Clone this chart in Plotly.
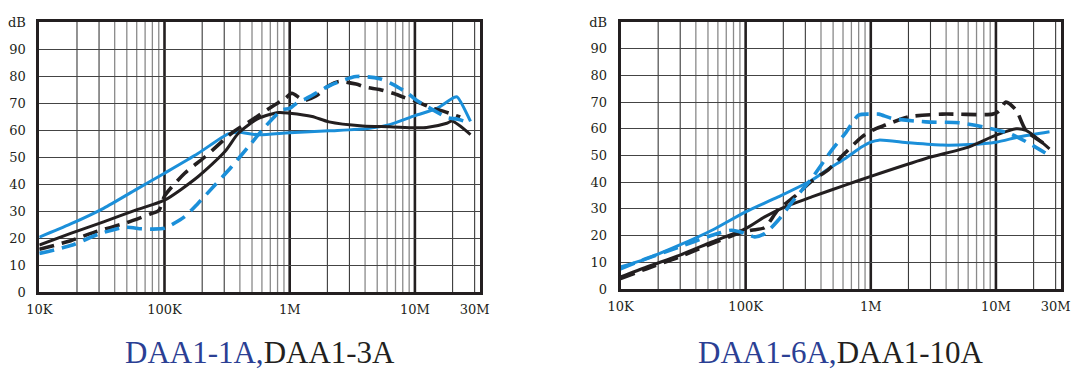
import plotly.graph_objects as go

# ---------------- data (frequency in kHz, attenuation in dB) ----------------
# Left chart: DAA1-1A, DAA1-3A
L_blue_solid_f = [10, 17.8, 32.6, 59.6, 100, 185, 323, 389, 563, 1000, 2060, 4330, 6280, 10000, 15000, 20400, 21700, 27800]
L_blue_solid_db = [20.3, 25.2, 31, 38, 44, 51.3, 58.6, 59.2, 58.2, 59, 59.7, 60.6, 62, 65.3, 68, 72, 72.3, 63.2]

L_black_solid_f = [10, 17.8, 32.6, 59.6, 100, 185, 304, 389, 563, 816, 1000, 1510, 2060, 3830, 6280, 10000, 12400, 18000, 19800, 27800]
L_black_solid_db = [17.4, 21.7, 26, 30.4, 34, 42.7, 52, 58.8, 64.3, 66.5, 66.2, 65, 63, 61.5, 61.2, 60.8, 60.9, 62.5, 63.3, 58.3]

L_black_dash_f = [10, 17.8, 27, 50, 77, 90, 100, 145, 210, 343, 498, 720, 922, 1040, 1300, 1610, 2060, 2480, 3390, 4080, 5220, 6680, 8300, 10000, 14000, 16800, 23000]
L_black_dash_db = [15.8, 19, 22, 25.7, 28.9, 30.2, 35.5, 44, 50, 58.8, 63.7, 68.6, 71.7, 73.6, 71, 72.5, 76.5, 78, 77, 75.8, 75, 73.6, 72, 70.8, 68, 67, 64.8]

L_blue_dash_f = [10, 18.4, 30, 48.2, 65.6, 81, 100, 113, 145, 185, 253, 343, 468, 636, 867, 1000, 1180, 1340, 2060, 3390, 5220, 6600, 8800, 10300, 15900, 18400, 22000, 27700]
L_blue_dash_db = [14.3, 17.4, 21.5, 24, 23.4, 23.3, 23.6, 24.8, 27.9, 32.8, 39.6, 46.4, 53.8, 61.2, 67.4, 68, 70.5, 71.5, 76.3, 79.8, 79, 77, 73.6, 71, 66, 64.5, 64, 62.5]

# Right chart: DAA1-6A, DAA1-10A
R_blue_solid_f = [10, 16.2, 29.5, 53.8, 100, 182, 337, 459, 625, 850, 1000, 1160, 2020, 3730, 6110, 10000, 15400, 26800]
R_blue_solid_db = [8.25, 11.4, 16.4, 22, 28.9, 34.5, 40.75, 45, 48.9, 53.25, 55, 55.75, 54.75, 53.9, 54.1, 55, 57, 58.9]

R_black_solid_f = [10, 16.2, 29.5, 53.8, 100, 142, 206, 337, 625, 1000, 2750, 6110, 10000, 14500, 17400, 26800]
R_black_solid_db = [4.5, 8.25, 12.6, 17.6, 22.6, 27, 30.75, 34.5, 38.9, 42.2, 48.9, 53.25, 57.6, 60, 59.4, 52.5]

R_black_dash_f = [10, 16.2, 29.5, 53.8, 87.2, 111, 142, 182, 248, 337, 459, 625, 850, 1090, 1310, 2020, 3730, 9400, 10600, 12000, 14500, 17400, 26800]
R_black_dash_db = [3.9, 7.6, 12, 17, 20.75, 22, 23, 29.75, 34.75, 40.4, 44.75, 51, 57, 60, 61.4, 64.5, 65.5, 65.5, 66.6, 70, 67, 59.4, 53.25]

R_blue_dash_f = [10, 16.2, 29.5, 53.8, 77.3, 100, 118, 142, 182, 248, 337, 488, 625, 800, 1000, 1160, 1480, 2750, 5080, 7820, 12800, 18500, 26800]
R_blue_dash_db = [7.6, 11.4, 15.75, 20.1, 22, 20.75, 19.5, 20.75, 25.75, 33.9, 41.4, 52, 58.25, 65.1, 65.5, 65.5, 63.9, 62.6, 62.25, 60.75, 58.25, 54.5, 50]

x_tick_vals = [1e4, 1e5, 1e6, 1e7, 3e7]
x_tick_text = ["10K", "100K", "1M", "10M", "30M"]
y_tick_vals = [0, 10, 20, 30, 40, 50, 60, 70, 80, 90, 100]
y_tick_text = ["0", "10", "20", "30", "40", "50", "60", "70", "80", "90", "dB"]

titles = [("DAA1-1A,", "DAA1-3A"), ("DAA1-6A,", "DAA1-10A")]

# ---------------- styling ----------------
BLUE = "#1b8fd9"
BLACK = "#231f20"
TITLE_BLUE = "#2b3f94"
PAGE_W, PAGE_H = 1085, 386
OFF = 8  # default page body margin in the html written by plotly
W, H = PAGE_W - OFF, PAGE_H - OFF
SERIF = "Liberation Serif, serif"
TICK_SERIF = "DejaVu Serif, serif"

fig = go.Figure()

def add(fx, fy, color, dash, xa, ya, width):
    fig.add_trace(go.Scatter(
        x=[v * 1000 for v in fx], y=fy, mode="lines",
        line=dict(color=color, width=width, dash=dash, shape="spline", smoothing=0.7),
        xaxis=xa, yaxis=ya, showlegend=False, hoverinfo="skip"))

DASH = "15px,8px"
add(L_blue_solid_f, L_blue_solid_db, BLUE, "solid", "x", "y", 3)
add(L_black_solid_f, L_black_solid_db, BLACK, "solid", "x", "y", 3)
add(L_black_dash_f, L_black_dash_db, BLACK, DASH, "x", "y", 3.6)
add(L_blue_dash_f, L_blue_dash_db, BLUE, DASH, "x", "y", 3.6)

add(R_blue_solid_f, R_blue_solid_db, BLUE, "solid", "x2", "y2", 3)
add(R_black_solid_f, R_black_solid_db, BLACK, "solid", "x2", "y2", 3)
add(R_black_dash_f, R_black_dash_db, BLACK, DASH, "x2", "y2", 3.6)
add(R_blue_dash_f, R_blue_dash_db, BLUE, DASH, "x2", "y2", 3.6)

# vertical grid lines as shapes
shapes = []
for xr, yr in (("x", "y"), ("x2", "y2")):
    for dec in (1e4, 1e5, 1e6, 1e7):
        for m in range(1, 10):
            f = dec * m
            if f > 3.2e7 or f == 1e4:
                continue
            if m == 1:
                col, wd = BLACK, 2.6
            elif m <= 3:
                col, wd = "#3a3a3a", 1.1
            else:
                col, wd = "#8a8a8a", 1.3
            shapes.append(dict(type="line", xref=xr, yref=yr, x0=f, x1=f, y0=0, y1=100,
                               line=dict(color=col, width=wd), layer="below"))

tick_font = dict(family=TICK_SERIF, size=13, color=BLACK)
common_x = dict(type="log", range=[4, 7.52], tickvals=x_tick_vals, ticktext=x_tick_text,
                showgrid=False, zeroline=False, showline=True, mirror=True,
                linecolor=BLACK, linewidth=2.6, ticks="", tickfont=tick_font,
                automargin=False, fixedrange=True, ticklabelstandoff=4)
common_y = dict(range=[0, 100], tickvals=y_tick_vals, ticktext=y_tick_text,
                showgrid=True, gridcolor="#444444", gridwidth=1.1, zeroline=False,
                showline=True, mirror=True, linecolor=BLACK, linewidth=2.6, ticks="",
                tickfont=tick_font, automargin=False, fixedrange=True, ticklabelstandoff=8)

def px_x(a, b):
    return [(a - OFF) / W, (b - OFF) / W]

def px_y(top, bottom):
    return [(PAGE_H - bottom) / H, (PAGE_H - top) / H]

annotations = []
for i, (xd, yd) in enumerate(((px_x(39.3, 480), px_y(22, 292)), (px_x(620.5, 1061), px_y(22, 289)))):
    blue_part, black_part = titles[i]
    annotations.append(dict(
        xref="paper", yref="paper", x=(xd[0] + xd[1]) / 2, y=(PAGE_H - 352) / H,
        xanchor="center", yanchor="middle", showarrow=False,
        text=f"<span style='color:{TITLE_BLUE}'>{blue_part}</span>{black_part}",
        font=dict(family=SERIF, size=31, color=BLACK)))

fig.update_layout(
    width=W, height=H, margin=dict(l=0, r=0, t=0, b=0),
    paper_bgcolor="white", plot_bgcolor="white",
    xaxis=dict(common_x, domain=px_x(39.3, 480), anchor="y"),
    yaxis=dict(common_y, domain=px_y(22, 292), anchor="x"),
    xaxis2=dict(common_x, domain=px_x(620.5, 1061), anchor="y2"),
    yaxis2=dict(common_y, domain=px_y(22, 289), anchor="x2"),
    shapes=shapes, annotations=annotations,
)

fig.write_html("out.html")
